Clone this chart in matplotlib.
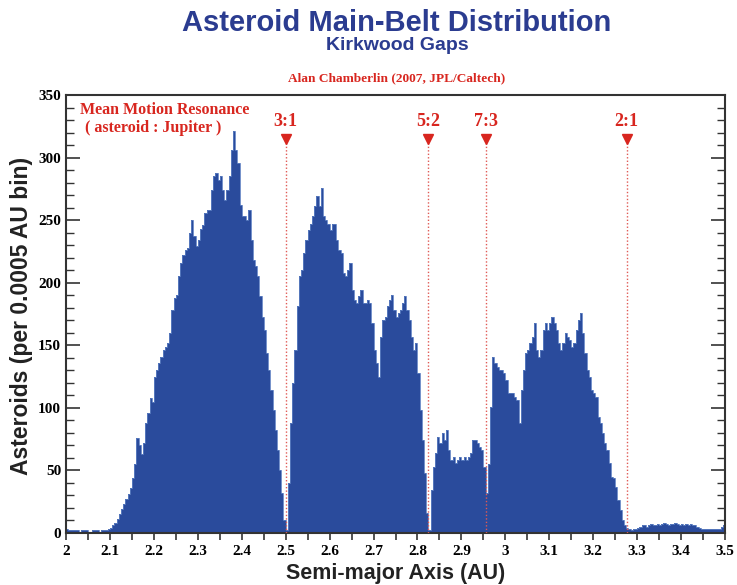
import numpy as np
import matplotlib
matplotlib.use('Agg')
import matplotlib.pyplot as plt
from matplotlib.ticker import MultipleLocator

# ---------------- data (counts per bin, 0.005 AU steps) ----
bin_width = 0.005
a_start = 2.0
counts_20 = [3, 2, 2, 2, 2, 2, 1, 2, 2, 2, 1, 1, 2, 2, 2, 1, 2, 2, 2, 3]
counts_21 = [4, 6, 8, 11, 15, 19, 23, 27, 31, 36, 44, 55, 76, 70, 63, 72, 88, 96, 108, 105]
counts_22 = [125, 130, 136, 141, 146, 149, 152, 160, 178, 188, 190, 205, 216, 222, 226, 228, 240, 250, 237, 229]
counts_23 = [234, 243, 246, 256, 258, 258, 274, 285, 288, 282, 285, 274, 266, 274, 285, 306, 321, 306, 296, 262]
counts_24 = [253, 253, 250, 258, 234, 218, 213, 205, 189, 173, 162, 144, 130, 114, 98, 82, 66, 50, 32, 10]
counts_25 = [2, 40, 88, 120, 146, 181, 205, 210, 224, 234, 242, 247, 253, 261, 269, 261, 276, 253, 250, 247]
counts_26 = [242, 247, 247, 234, 226, 224, 208, 205, 210, 216, 194, 186, 184, 189, 194, 184, 184, 186, 184, 168]
counts_27 = [146, 136, 125, 157, 170, 173, 181, 186, 190, 178, 173, 176, 178, 184, 189, 178, 170, 157, 146, 152]
counts_28 = [128, 98, 74, 48, 16, 2, 34, 53, 64, 77, 72, 80, 74, 82, 66, 58, 61, 56, 58, 61]
counts_29 = [58, 61, 58, 61, 64, 74, 74, 72, 69, 66, 53, 32, 55, 101, 141, 136, 133, 130, 130, 128]
counts_30 = [122, 112, 112, 112, 109, 106, 88, 114, 130, 144, 146, 152, 157, 168, 146, 141, 146, 162, 168, 162]
counts_31 = [168, 173, 168, 162, 152, 146, 152, 160, 157, 154, 149, 152, 162, 170, 176, 160, 144, 130, 125, 114]
counts_32 = [112, 109, 93, 88, 80, 72, 66, 56, 45, 44, 37, 26, 18, 10, 6, 4, 3, 2, 3, 3]
counts_33 = [4, 5, 6, 6, 5, 6, 7, 6, 6, 7, 6, 7, 8, 7, 6, 7, 7, 8, 7, 6]
counts_34 = [7, 6, 7, 6, 7, 6, 6, 5, 4, 3, 3, 3, 3, 3, 3, 3, 3, 3, 5, 6]

res_labels = ['3:1', '5:2', '7:3', '2:1']
res_positions = [2.500, 2.824, 2.957, 3.276]

x_ticks = [2.0, 2.1, 2.2, 2.3, 2.4, 2.5, 2.6, 2.7, 2.8, 2.9, 3.0, 3.1, 3.2, 3.3, 3.4, 3.5]
x_ticklabels = ['2', '2.1', '2.2', '2.3', '2.4', '2.5', '2.6', '2.7', '2.8', '2.9',
                '3', '3.1', '3.2', '3.3', '3.4', '3.5']
y_ticks = [0, 50, 100, 150, 200, 250, 300, 350]

counts = (counts_20 + counts_21 + counts_22 + counts_23 + counts_24 + counts_25 +
          counts_26 + counts_27 + counts_28 + counts_29 + counts_30 + counts_31 +
          counts_32 + counts_33 + counts_34)
edges = a_start + bin_width * np.arange(len(counts) + 1)

# ---------------- styling ----------------
BLUE = '#2a4b9c'
EDGE_BLUE = '#5d7fc2'
TITLE_BLUE = '#2b3c90'
RED = '#d8261f'
SANS = ['Liberation Sans', 'DejaVu Sans']
SERIF = ['Liberation Serif', 'DejaVu Serif']

fig = plt.figure(figsize=(7.37, 5.85), dpi=100)
ax = fig.add_axes([0.0896, 0.0889, 0.8941, 0.7487])

ax.stairs(counts, edges, fill=True, color=BLUE, linewidth=0)
ax.stairs(counts, edges, color=EDGE_BLUE, linewidth=0.6)

ax.set_xlim(2.0, 3.5)
ax.set_ylim(0, 350)

# resonance markers
for lab, pos in zip(res_labels, res_positions):
    ax.plot([pos, pos], [0, 312], linestyle=(0, (1, 1.5)), color='#e05a55', linewidth=1.0, zorder=3)
    ax.plot([pos], [315], marker='v', color=RED, markersize=7, zorder=4, linestyle='none')
    ax.text(pos, 322, lab, ha='center', va='bottom', color=RED, fontsize=13,
            fontweight='bold', family=SERIF)

ax.text(0.0215, 0.985, 'Mean Motion Resonance', transform=ax.transAxes, ha='left', va='top',
        color=RED, fontsize=11.5, fontweight='bold', family=SERIF)
ax.text(0.0295, 0.943, '( asteroid : Jupiter )', transform=ax.transAxes, ha='left', va='top',
        color=RED, fontsize=11.5, fontweight='bold', family=SERIF)

# ticks
ax.set_xticks(x_ticks)
ax.set_xticklabels(x_ticklabels)
ax.xaxis.set_minor_locator(MultipleLocator(0.05))
ax.set_yticks(y_ticks)
ax.yaxis.set_minor_locator(MultipleLocator(10))
ax.tick_params(axis='x', which='both', direction='out', length=5, width=1.2, color='#333333',
               top=False)
ax.tick_params(axis='y', which='major', direction='in', length=10, width=1.2, color='#333333',
               left=True, right=True)
ax.tick_params(axis='y', which='minor', direction='in', length=6, width=1.0, color='#333333',
               left=True, right=True)
for lab in ax.get_xticklabels() + ax.get_yticklabels():
    lab.set_family(SERIF)
    lab.set_fontweight('bold')
    lab.set_fontsize(11)
ax.tick_params(axis='x', pad=4)

for sp in ax.spines.values():
    sp.set_linewidth(1.5)
    sp.set_color('#333333')

ax.set_xlabel('Semi-major Axis (AU)', fontsize=15.5, fontweight='bold', family=SANS,
              color='#222222', va='center')
ax.xaxis.set_label_coords(0.5, -0.0936)
ax.set_ylabel('Asteroids (per 0.0005 AU bin)', fontsize=16.5, fontweight='bold', family=SANS,
              color='#222222', va='center')
ax.yaxis.set_label_coords(-0.068, 0.495)

cx = 397 / 737
fig.text(cx, 1 - 31 / 585, 'Asteroid Main-Belt Distribution', ha='center', va='baseline',
         fontsize=21, fontweight='bold', family=SANS, color=TITLE_BLUE)
fig.text(cx, 1 - 50.5 / 585, 'Kirkwood Gaps', ha='center', va='baseline',
         fontsize=14, fontweight='bold', family=SANS, color=TITLE_BLUE)
fig.text(cx, 1 - 81 / 585, 'Alan Chamberlin (2007, JPL/Caltech)', ha='center', va='baseline',
         fontsize=9.6, fontweight='bold', family=SERIF, color=RED)

fig.savefig('out.png', dpi=100, facecolor='white')
